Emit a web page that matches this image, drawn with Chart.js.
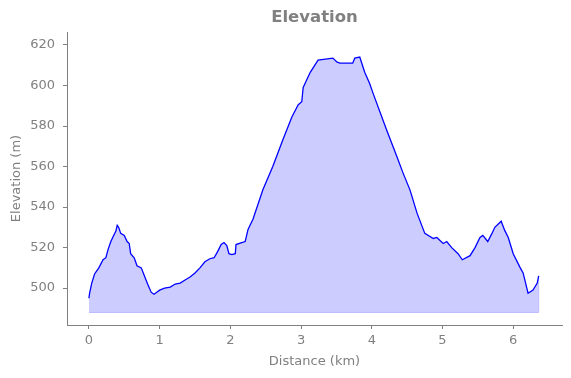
<!DOCTYPE html>
<html>
<head>
<meta charset="utf-8">
<script src="https://cdn.jsdelivr.net/npm/chart.js@4"></script>
<style>
  html, body { margin: 0; padding: 0; background: #fff; }
  #wrap { width: 571px; height: 378px; }
</style>
</head>
<body>
<div id="wrap"><canvas id="elevChart"></canvas></div>
<script>
// DATA
const distKm = [0.00, 0.01, 0.04, 0.08, 0.14, 0.20, 0.24, 0.27, 0.31, 0.35, 0.38, 0.40, 0.42, 0.45, 0.50,
  0.54, 0.57, 0.59, 0.64, 0.68, 0.74, 0.78, 0.83, 0.88, 0.92, 0.96, 1.00, 1.07, 1.15, 1.22, 1.29,
  1.36, 1.43, 1.50, 1.57, 1.64, 1.71, 1.77, 1.82, 1.87, 1.91, 1.95, 1.98, 2.02, 2.07, 2.08, 2.16,
  2.21, 2.25, 2.32, 2.46, 2.60, 2.74, 2.87, 2.96, 3.01, 3.03, 3.13, 3.24, 3.45, 3.51, 3.55, 3.73,
  3.76, 3.83, 3.90, 3.97, 4.02, 4.21, 4.36, 4.44, 4.54, 4.64, 4.75, 4.87, 4.92, 5.01, 5.06, 5.13,
  5.22, 5.28, 5.39, 5.46, 5.53, 5.57, 5.64, 5.70, 5.74, 5.83, 5.88, 5.93, 6.00, 6.10, 6.14, 6.21,
  6.28, 6.34, 6.36];
const elevM = [495, 497.5, 502.5, 507, 510, 514, 515, 519, 523, 526, 528, 531, 530, 527, 526,
  523, 522, 517, 515, 511, 510, 506.5, 502, 498, 497, 498, 499, 500, 500.5, 502, 502.5,
  504, 505.5, 507.5, 510, 513, 514.5, 515, 518, 521.5, 522.5, 521, 517, 516.5, 517, 521.5, 522.5,
  523, 529, 534, 548.5, 560, 573, 584.5, 590.5, 592, 599, 606.5, 612.5, 613.5, 611.5, 611, 611,
  613.5, 614, 606.5, 601, 596, 578, 564.5, 557, 548.5, 537, 527, 524.5, 525, 522, 523, 520,
  517, 514, 516, 520, 525, 526, 523, 527, 530, 533, 528.5, 525, 517, 510, 507.5, 497.5,
  499, 502.5, 506];
const fillBase = 488;
const xTicks = [0, 1, 2, 3, 4, 5, 6];
const yTicks = [500, 520, 540, 560, 580, 600, 620];
const titleText = "Elevation";

const grey = "#808080";
const font = { family: "DejaVu Sans", size: 13 };

const profile = distKm.map((d, i) => ({ x: d, y: elevM[i] }));
const lastX = distKm[distKm.length - 1];
const edge = [
  { x: distKm[0], y: fillBase },
  { x: lastX, y: fillBase },
  { x: lastX, y: elevM[elevM.length - 1] }
];

// title centred over the plot area, not the whole canvas
const axesTitle = {
  id: "axesTitle",
  afterDraw(chart) {
    const { ctx, chartArea } = chart;
    ctx.save();
    ctx.fillStyle = grey;
    ctx.font = "bold 16.5px 'DejaVu Sans'";
    ctx.textAlign = "center";
    ctx.textBaseline = "middle";
    ctx.fillText(titleText, (chartArea.left + chartArea.right) / 2, 18);
    ctx.restore();
  }
};

new Chart(document.getElementById("elevChart"), {
  type: "line",
  data: {
    datasets: [{
      data: edge,
      borderColor: "rgba(0,0,255,0.2)",
      borderWidth: 1,
      pointRadius: 0,
      fill: false
    }, {
      data: profile,
      borderColor: "#0000ff",
      borderWidth: 1.3,
      backgroundColor: "rgba(0,0,255,0.2)",
      pointRadius: 0,
      tension: 0,
      fill: { value: fillBase }
    }]
  },
  plugins: [axesTitle],
  options: {
    responsive: true,
    maintainAspectRatio: false,
    animation: false,
    layout: { padding: { left: 0, right: 9, top: 32, bottom: 0 } },
    plugins: {
      legend: { display: false },
      tooltip: { enabled: false },
      title: { display: false }
    },
    scales: {
      x: {
        type: "linear",
        min: -0.31,
        max: 6.69,
        afterBuildTicks: s => { s.ticks = xTicks.map(v => ({ value: v })); },
        afterFit: s => { s.height = 53; },
        ticks: { color: grey, font: font, padding: 4, maxRotation: 0 },
        grid: { display: true, drawOnChartArea: false, tickLength: 4, color: grey },
        border: { color: grey, width: 1 },
        title: { display: true, text: "Distance (km)", color: grey, font: font, padding: { bottom: 9 } }
      },
      y: {
        min: 481.8,
        max: 626.4,
        afterBuildTicks: s => { s.ticks = yTicks.map(v => ({ value: v })); },
        afterFit: s => { s.width = 67; },
        ticks: { color: grey, font: font, padding: 8 },
        grid: { display: true, drawOnChartArea: false, tickLength: 4, color: grey },
        border: { color: grey, width: 1 },
        title: { display: true, text: "Elevation (m)", color: grey, font: font, padding: { top: 9 } }
      }
    }
  }
});
</script>
</body>
</html>
